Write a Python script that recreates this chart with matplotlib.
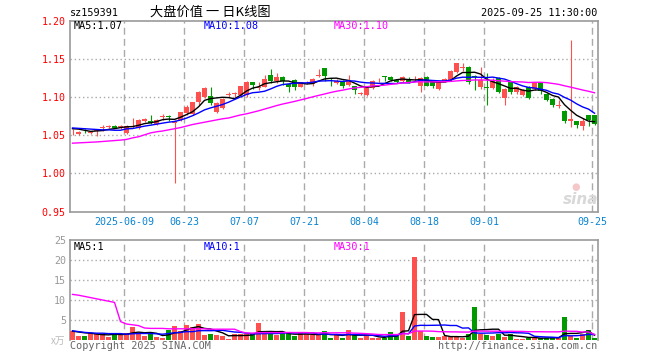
import numpy as np
import pandas as pd
import matplotlib
matplotlib.use('Agg')
import matplotlib.pyplot as plt

# trading days 2025-05-26 .. 2025-09-25 (Dragon Boat holiday on 06-02)
days = [d for d in pd.bdate_range('2025-05-26', '2025-09-25') if d.strftime('%m-%d') != '06-02']
tick_dates = ['2025-06-09', '2025-06-23', '2025-07-07', '2025-07-21', '2025-08-04',
              '2025-08-18', '2025-09-01', '2025-09-25']
tick_labels = ['2025-06-09', '06-23', '07-07', '07-21', '08-04', '08-18', '09-01', '09-25']

opens = [1.0575, 1.051, 1.056, 1.0525, 1.056, 1.060, 1.061, 1.0625, 1.0605, 1.053,
         1.0605, 1.060, 1.068, 1.069, 1.0653, 1.074, 1.0745, 1.066, 1.070, 1.079,
         1.078, 1.094, 1.100, 1.1018, 1.081, 1.086, 1.103, 1.1035, 1.103, 1.103,
         1.119, 1.112, 1.1137, 1.129, 1.121, 1.126, 1.1167, 1.122, 1.1137, 1.119,
         1.117, 1.127, 1.1377, 1.124, 1.118, 1.121, 1.116, 1.114, 1.104, 1.102,
         1.112, 1.123, 1.127, 1.1255, 1.1228, 1.121, 1.1237, 1.123, 1.115, 1.1255,
         1.1194, 1.1107, 1.120, 1.1224, 1.1333, 1.1375, 1.1394, 1.128, 1.1137, 1.1117,
         1.1115, 1.1246, 1.0985, 1.119, 1.1063, 1.1028, 1.1124, 1.1107, 1.119, 1.1037,
         1.0976, 1.0885, 1.082, 1.068, 1.0688, 1.062, 1.0767, 1.0767]
closes = [1.058, 1.054, 1.055, 1.054, 1.057, 1.0605, 1.0615, 1.060, 1.061, 1.062,
          1.062, 1.070, 1.071, 1.066, 1.070, 1.0745, 1.074, 1.069, 1.080, 1.0875,
          1.093, 1.106, 1.1115, 1.0915, 1.092, 1.097, 1.104, 1.104, 1.114, 1.120,
          1.1158, 1.113, 1.1237, 1.121, 1.126, 1.121, 1.1124, 1.1124, 1.1193, 1.120,
          1.1237, 1.128, 1.1268, 1.1237, 1.121, 1.115, 1.122, 1.109, 1.105, 1.1115,
          1.121, 1.1237, 1.126, 1.1228, 1.1193, 1.1255, 1.1202, 1.1237, 1.1246, 1.115,
          1.115, 1.1194, 1.1237, 1.1342, 1.1447, 1.138, 1.1194, 1.1255, 1.1224, 1.1113,
          1.1215, 1.1063, 1.1107, 1.1063, 1.1124, 1.1094, 1.0993, 1.118, 1.1072, 1.0963,
          1.0889, 1.089, 1.068, 1.0714, 1.0636, 1.0688, 1.0701, 1.0645]
highs = [1.058, 1.055, 1.058, 1.055, 1.058, 1.063, 1.063, 1.063, 1.063, 1.063,
         1.073, 1.071, 1.072, 1.0766, 1.0714, 1.0775, 1.0766, 1.0705, 1.081, 1.089,
         1.094, 1.108, 1.113, 1.113, 1.093, 1.099, 1.106, 1.106, 1.115, 1.121,
         1.120, 1.119, 1.129, 1.137, 1.131, 1.127, 1.118, 1.124, 1.120, 1.121,
         1.125, 1.137, 1.138, 1.125, 1.124, 1.122, 1.129, 1.115, 1.107, 1.113,
         1.122, 1.125, 1.1275, 1.127, 1.124, 1.128, 1.126, 1.127, 1.1255, 1.128,
         1.120, 1.121, 1.1246, 1.135, 1.145, 1.1447, 1.140, 1.129, 1.1394, 1.132,
         1.1246, 1.1255, 1.1115, 1.1194, 1.114, 1.111, 1.114, 1.119, 1.120, 1.105,
         1.099, 1.0963, 1.083, 1.1748, 1.069, 1.072, 1.077, 1.0767]
lows = [1.050, 1.050, 1.053, 1.051, 1.049, 1.056, 1.059, 1.059, 1.058, 1.051,
        1.059, 1.058, 1.067, 1.065, 1.0635, 1.070, 1.068, 0.988, 1.068, 1.077,
        1.077, 1.090, 1.099, 1.090, 1.079, 1.084, 1.100, 1.100, 1.100, 1.100,
        1.110, 1.109, 1.113, 1.118, 1.118, 1.116, 1.107, 1.109, 1.1124, 1.117,
        1.114, 1.126, 1.121, 1.115, 1.117, 1.112, 1.115, 1.104, 1.103, 1.101,
        1.110, 1.120, 1.121, 1.121, 1.118, 1.119, 1.118, 1.121, 1.107, 1.114,
        1.112, 1.109, 1.119, 1.121, 1.132, 1.134, 1.117, 1.109, 1.111, 1.090,
        1.110, 1.105, 1.0897, 1.1037, 1.104, 1.101, 1.097, 1.109, 1.104, 1.095,
        1.087, 1.0854, 1.066, 1.0614, 1.060, 1.057, 1.062, 1.063]
# volume, unit: 10k lots
volumes = [2.25, 1.0, 1.0, 1.67, 1.5, 1.5, 0.75, 1.75, 1.33, 1.75,
           3.33, 1.67, 1.0, 1.67, 0.75, 0.5, 2.5, 3.5, 2.25, 3.75,
           3.25, 4.0, 1.25, 1.5, 1.25, 1.0, 0.25, 1.5, 1.5, 1.5,
           1.5, 4.25, 1.75, 1.67, 1.25, 1.67, 1.67, 1.0, 1.67, 1.5,
           1.25, 1.25, 2.25, 0.5, 1.25, 0.5, 2.5, 1.25, 0.5, 1.25,
           0.5, 0.5, 0.5, 2.0, 1.0, 7.0, 1.0, 20.75, 2.25, 1.0,
           0.75, 0.75, 1.0, 0.75, 1.0, 0.5, 1.5, 8.25, 1.5, 1.25,
           1.0, 1.5, 0.75, 1.5, 0.25, 0.25, 0.5, 0.75, 0.5, 0.5,
           0.5, 0.5, 5.75, 1.0, 0.5, 1.5, 2.5, 0.5]

# moving-average values before enough history is visible
ma5_head = [1.0585, 1.058, 1.0565, 1.055]
ma10_head = [1.0595, 1.059, 1.0585, 1.058, 1.0575, 1.057, 1.057, 1.0565, 1.0565]
ma30_head = [1.0396, 1.040, 1.0404, 1.0408, 1.0412, 1.0418, 1.0424, 1.043, 1.0436, 1.0445,
             1.0465, 1.048, 1.0505, 1.053, 1.0545, 1.0555, 1.057, 1.0585, 1.060, 1.062,
             1.064, 1.0655, 1.067, 1.0685, 1.070, 1.0715, 1.0725, 1.0745, 1.0765]
vma5_head = [2.2, 2.0, 1.8, 1.7]
vma10_head = [2.3, 2.1, 1.9, 1.8, 1.7, 1.7, 1.6, 1.6, 1.6]
vma30_head = [11.4, 11.2, 10.9, 10.6, 10.3, 10.0, 9.7, 9.4, 4.6, 4.0,
              3.8, 3.6, 3.0, 2.9, 2.9, 2.9, 2.8, 2.8, 2.8, 2.8,
              2.8, 2.8, 2.8, 2.7, 2.7, 2.7, 2.7, 2.7, 2.1]

ma_labels = ['MA5:1.07', 'MA10:1.08', 'MA30:1.10']
vma_labels = ['MA5:1', 'MA10:1', 'MA30:1']


def rolling(vals, n, head):
    out = list(head)
    for i in range(len(head), len(vals)):
        out.append(np.mean(vals[i - n + 1:i + 1]))
    return out


W, H = 660, 360
RED, GREEN = '#ff5050', '#009a00'
GRID = '#aaaaaa'
MONO = 'DejaVu Sans Mono'

fig = plt.figure(figsize=(6.6, 3.6), dpi=100)
ax = fig.add_axes([70 / W, 1 - 211.7 / H, 528 / W, 191.2 / H])
axv = fig.add_axes([70 / W, 1 - 340 / H, 528 / W, 100 / H])

n = len(closes)
x = np.arange(n) + 0.42
o, c, h, l = map(np.array, (opens, closes, highs, lows))
up = c >= o
cols = np.where(up, RED, GREEN)

# candles
ax.vlines(x, l, h, colors=cols, lw=0.8, zorder=3)
body_bot = np.minimum(o, c)
body_h = np.maximum(np.abs(c - o), 0.0011)
ax.bar(x, body_h, bottom=body_bot, width=0.8, color=cols, lw=0, zorder=4)

ax.plot(x, rolling(closes, 5, ma5_head), color='black', lw=1.0, zorder=5)
ax.plot(x, rolling(closes, 10, ma10_head), color='#0000ff', lw=1.0, zorder=5)
ax.plot(x, rolling(closes, 30, ma30_head), color='#ff00ff', lw=1.0, zorder=5)

# volume
axv.bar(x, volumes, width=0.8, color=cols, lw=0, zorder=3)
axv.plot(x, rolling(volumes, 5, vma5_head), color='black', lw=1.0, zorder=5)
axv.plot(x, rolling(volumes, 10, vma10_head), color='#0000ff', lw=1.0, zorder=5)
axv.plot(x, rolling(volumes, 30, vma30_head), color='#ff00ff', lw=1.0, zorder=5)

day_str = [d.strftime('%Y-%m-%d') for d in days]
tick_pos = [day_str.index(t) for t in tick_dates]

for a in (ax, axv):
    a.set_xlim(0, n)
    for p in tick_pos:
        a.axvline(p, color=GRID, lw=1.0, ls=(0, (5, 3)), zorder=1)
    for s in a.spines.values():
        s.set_color('#999999')
        s.set_linewidth(1.2)
    a.tick_params(length=0)

ax.set_ylim(0.95, 1.20)
ax.set_yticks([0.95, 1.00, 1.05, 1.10, 1.15, 1.20])
ax.set_yticklabels(['%.2f' % v for v in [0.95, 1.00, 1.05, 1.10, 1.15, 1.20]],
                   color='#ff0000', fontsize=7.2, family=MONO)
for v in [1.00, 1.05, 1.10, 1.15]:
    ax.axhline(v, color=GRID, lw=1.0, ls=(0, (1, 2)), zorder=1)
ax.set_xticks(tick_pos)
ax.set_xticklabels(tick_labels, color='#0a84d0', fontsize=7.2, family=MONO)
ax.tick_params(axis='x', pad=4)
ax.tick_params(axis='y', pad=3)

axv.set_ylim(0, 25)
axv.set_yticks([5, 10, 15, 20, 25])
axv.set_yticklabels(['5', '10', '15', '20', '25'], color='#999999', fontsize=7.2, family=MONO)
axv.tick_params(axis='y', pad=3)
axv.set_xticks([])
axv.spines['bottom'].set_visible(False)
for v in [5, 10, 15, 20]:
    axv.axhline(v, color=GRID, lw=1.0, ls=(0, (1, 2)), zorder=1)


def t(px, py, s, **kw):
    fig.text(px / W, 1 - py / H, s, va='center', **kw)


t(70, 12.5, 'sz159391', fontsize=7.3, family=MONO, color='black')
t(150, 12, '大盘价值 一 日K线图', fontsize=9.5, family=['Noto Sans CJK SC', 'DejaVu Sans'], color='black')
t(597, 12.5, '2025-09-25 11:30:00', fontsize=7.3, family=MONO, color='black', ha='right')

ma_colors = ['black', '#0000ff', '#ff00ff']
for k in range(3):
    t(74 + 130 * k, 26, ma_labels[k], fontsize=7.3, family=MONO, color=ma_colors[k])
    t(74 + 130 * k, 247, vma_labels[k], fontsize=7.3, family=MONO, color=ma_colors[k])

t(65, 341, 'x万', fontsize=7, family=['Noto Sans CJK SC', 'DejaVu Sans'], color='#bbbbbb', ha='right')
t(70, 346, 'Copyright 2025 SINA.COM', fontsize=7.3, family=MONO, color='#666666')
t(597, 346, 'http://finance.sina.com.cn', fontsize=7.3, family=MONO, color='#666666', ha='right')
t(581, 199, 'sina', fontsize=11, style='italic', weight='bold', color='#d8d8d8', ha='center')
fig.text(576 / W, 1 - 187 / H, '●', fontsize=7, color='#f4c8c8', ha='center', va='center')

fig.savefig('out.png', dpi=100)
